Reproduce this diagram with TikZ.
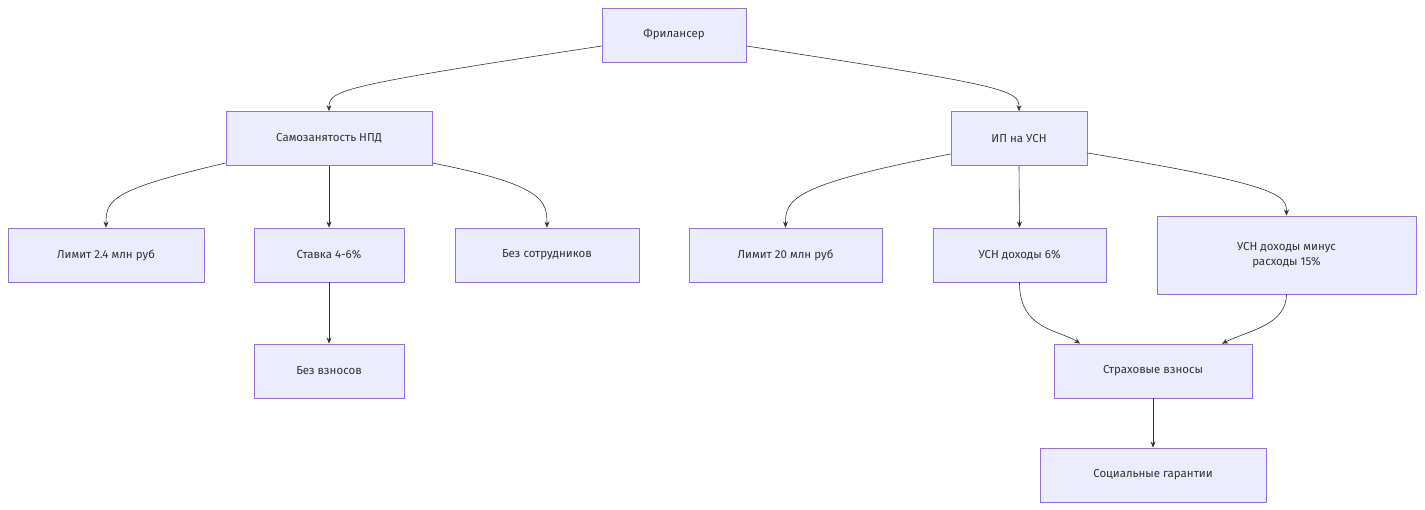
\documentclass[tikz,border=0pt]{standalone}
\usepackage{fontspec}
\setmainfont{Fira Sans}
\usetikzlibrary{positioning,arrows.meta}
\definecolor{boxfill}{HTML}{ECECFF}
\definecolor{boxline}{HTML}{9370DB}
\definecolor{ink}{HTML}{333333}
\begin{document}
\begin{tikzpicture}[x=1pt,y=-1pt,
	box/.style={draw=boxline,fill=boxfill,line width=0.8pt,minimum height=54pt,
		text=ink,font=\fontsize{11.5}{15}\selectfont,align=center,inner sep=0pt},
	arr/.style={draw=ink,line width=0.6pt,-{Stealth[length=6pt,width=5pt]}}]
	\useasboundingbox (0,0) rectangle (1425,510);
	% Top %
	\node [box,minimum width=144pt] (fr) at (674,35) {Фрилансер};
	\node [box,minimum width=206pt] (smz) at (329,138.5) {Самозанятость НПД};
	\node [box,minimum width=136pt] (ip) at (1019,138.5) {ИП на УСН};
	% Self-employed branch %
	\node [box,minimum width=196pt] (lim) at (106,255) {Лимит 2.4 млн руб};
	\node [box,minimum width=150pt] (stav) at (329,255) {Ставка 4-6\%};
	\node [box,minimum width=184pt] (sotr) at (547,255) {Без сотрудников};
	\node [box,minimum width=150pt] (bvz) at (329,371) {Без взносов};
	% Entrepreneur branch %
	\node [box,minimum width=193pt] (limip) at (785.5,255) {Лимит 20 млн руб};
	\node [box,minimum width=173pt] (usn) at (1019.5,255) {УСН доходы 6\%};
	\node [box,minimum width=259pt,minimum height=78pt] (usnr) at (1286.5,255) {УСН доходы минус\\расходы 15\%};
	\node [box,minimum width=198pt] (strah) at (1153,371) {Страховые взносы};
	\node [box,minimum width=226pt] (soc) at (1153,475) {Социальные гарантии};
	% Connectors %
	\draw [arr] (fr.west|-0,46) .. controls (340,86) and (329,90) .. (smz.north);
	\draw [arr] (fr.east|-0,46) .. controls (1008,86) and (1019,90) .. (ip.north);
	\draw [arr] (smz.west|-0,163) .. controls (110,190) and (106,200) .. (lim.north);
	\draw [arr] (smz.south) -- (stav.north);
	\draw [arr] (smz.east|-0,163) .. controls (543,185) and (547,200) .. (sotr.north);
	\draw [arr] (stav.south) -- (bvz.north);
	\draw [arr] (ip.west|-0,154) .. controls (790,185) and (785.5,200) .. (limip.north);
	\draw [arr] (ip.south) -- (usn.north);
	\draw [arr] (ip.east|-0,153) .. controls (1280,185) and (1286.5,195) .. (usnr.north);
	\draw [arr] (usn.south) .. controls (1019,330) and (1060,330) .. (strah.north-|1080,0);
	\draw [arr] (usnr.south) .. controls (1286,325) and (1250,330) .. (strah.north-|1222,0);
	\draw [arr] (strah.south) -- (soc.north);
\end{tikzpicture}
\end{document}
